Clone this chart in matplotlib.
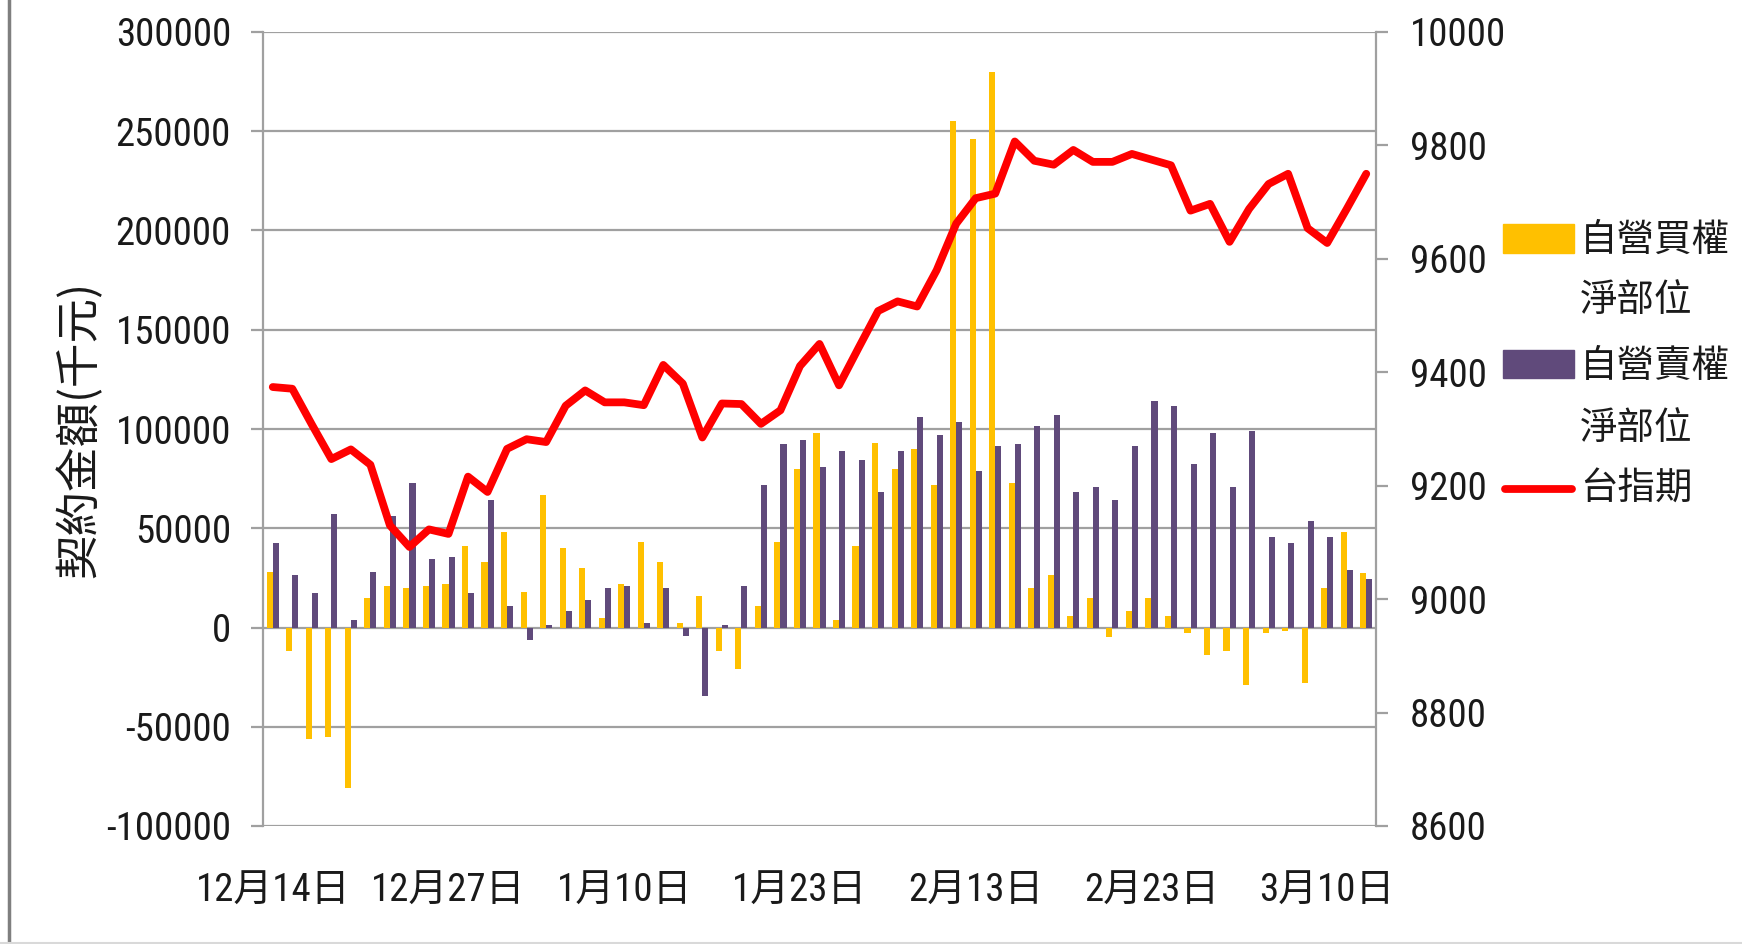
import matplotlib
matplotlib.use('Agg')
import matplotlib.pyplot as plt
from matplotlib import font_manager as fm
from matplotlib.lines import Line2D
from matplotlib.patches import Rectangle
import numpy as np

# ---- data ----
buy_net = [28000, -12000, -56000, -55000, -81000, 15000, 21000, 20000, 21000, 22000,
           41000, 33000, 48000, 18000, 67000, 40000, 30000, 5000, 22000, 43000,
           33000, 2500, 16000, -12000, -21000, 11000, 43000, 80000, 98000, 4000,
           41000, 93000, 80000, 90000, 72000, 255000, 246000, 280000, 73000, 20000,
           26500, 6000, 15000, -5000, 8500, 15000, 6000, -3000, -14000, -12000,
           -29000, -3000, -1700, -28000, 20000, 48000, 27600]
sell_net = [42600, 26600, 17400, 57100, 3900, 27800, 56000, 72900, 34500, 35500,
            17400, 64000, 10600, -6200, 1400, 8400, 14000, 19700, 20700, 2500,
            19700, -4200, -34500, 1400, 20700, 71900, 92300, 94600, 81000, 88900,
            84500, 68400, 88900, 105900, 96800, 103700, 78800, 91300, 92300, 101400,
            107100, 68400, 70700, 64000, 91300, 114000, 111600, 82200, 98200, 70700,
            99200, 45800, 42400, 53700, 45800, 28800, 24200]
taiex_fut = [9374, 9371, 9308, 9247, 9264, 9237, 9130, 9092, 9123, 9115,
             9216, 9189, 9265, 9282, 9277, 9341, 9368, 9347, 9347, 9342,
             9413, 9380, 9285, 9345, 9344, 9309, 9333, 9411, 9450, 9377,
             9443, 9508, 9525, 9516, 9580, 9662, 9707, 9715, 9807, 9773,
             9766, 9792, 9771, 9771, 9785, 9775, 9765, 9685, 9697, 9630,
             9688, 9732, 9750, 9654, 9628, 9688, 9750]
tick_positions = [0, 9, 18, 27, 36, 45, 54]
tick_labels = ['12月14日', '12月27日', '1月10日', '1月23日', '2月13日', '2月23日', '3月10日']
left_ticks = list(range(-100000, 300001, 50000))
right_ticks = list(range(8600, 10001, 200))
series_labels = [['自營買權', '淨部位'], ['自營賣權', '淨部位'], ['台指期']]
series_colors = ['#FFC000', '#604A7B', '#FF0000']
y_label = '契約金額(千元)'

# ---- fonts ----
names = {f.name for f in fm.fontManager.ttflist}
num_font, num_size = 'Liberation Sans', 26
for cand in ['Liberation Sans Narrow', 'Roboto Condensed', 'Open Sans Condensed']:
    if cand in names:
        num_font, num_size = cand, 28
        break
cjk = 'Noto Sans CJK TC'
plt.rcParams['font.family'] = [num_font, cjk, 'DejaVu Sans']

W, H = 1742, 944
fig = plt.figure(figsize=(W / 100, H / 100), dpi=100)
ax = fig.add_axes([263 / W, 1 - 826 / H, 1113 / W, 794 / H])

x = np.arange(len(buy_net))
w = 0.31
grid_c = '#A0A0A0'
txt_c = '#1a1a1a'
ax.bar(x - w / 2, buy_net, w, color=series_colors[0], zorder=2)
ax.bar(x + w / 2, sell_net, w, color=series_colors[1], zorder=2)
ax.set_xlim(-0.5, len(buy_net) - 0.5)
ax.set_ylim(-100000, 300000)
ax.set_yticks(left_ticks)
ax.set_yticklabels([str(v) for v in left_ticks])
ax.yaxis.grid(True, color=grid_c, lw=1.6)
ax.set_axisbelow(True)
for s in ['top', 'bottom', 'right']:
    ax.spines[s].set_visible(False)
ax.spines['left'].set_color(grid_c)
ax.spines['left'].set_linewidth(1.6)
ax.tick_params(axis='y', direction='out', length=9, width=1.6, color=grid_c,
               labelsize=num_size, pad=14, labelcolor=txt_c)
ax.set_xticks(tick_positions)
ax.set_xticklabels(tick_labels)
ax.tick_params(axis='x', length=0, labelsize=num_size, pad=34, labelcolor=txt_c)
ax.set_ylabel(y_label, fontsize=32, family=[cjk], color=txt_c)
ax.yaxis.set_label_coords(-0.144, 0.5)

ax2 = ax.twinx()
ax2.plot(x, taiex_fut, color=series_colors[2], lw=5.6, solid_joinstyle='round',
         solid_capstyle='round', zorder=3)
ax2.set_ylim(8600, 10000)
ax2.set_yticks(right_ticks)
ax2.set_yticklabels([str(v) for v in right_ticks])
for s in ['top', 'bottom', 'left']:
    ax2.spines[s].set_visible(False)
ax2.spines['right'].set_color(grid_c)
ax2.spines['right'].set_linewidth(1.6)
ax2.tick_params(axis='y', direction='out', length=8.6, width=1.6, color=grid_c,
                labelsize=num_size, pad=16, labelcolor=txt_c)

# ---- legend (drawn in figure pixel coordinates) ----
def fx(px):
    return px / W

def fy(py):
    return 1 - py / H

fig.add_artist(Rectangle((fx(1503), fy(253)), fx(71), 29 / H,
                         transform=fig.transFigure, color=series_colors[0]))
fig.add_artist(Rectangle((fx(1503), fy(378)), fx(71), 28 / H,
                         transform=fig.transFigure, color=series_colors[1]))
fig.add_artist(Line2D([fx(1505), fx(1572)], [fy(489), fy(489)], transform=fig.transFigure,
                      color=series_colors[2], lw=5.6, solid_capstyle='round'))
line_y = [[240, 301], [366, 428], [489]]
for lab, ys in zip(series_labels, line_y):
    for t, yy in zip(lab, ys):
        fig.text(fx(1580), fy(yy), t, ha='left', va='center', fontsize=27,
                 family=[cjk], color=txt_c)

fig.add_artist(Line2D([8.5 / W, 8.5 / W], [0, 1], transform=fig.transFigure,
                      color='#7f7f7f', lw=2.5))
fig.add_artist(Line2D([0, 1], [1.5 / H, 1.5 / H], transform=fig.transFigure,
                      color='#d9d9d9', lw=1.5))

fig.savefig('out.png', dpi=100)
